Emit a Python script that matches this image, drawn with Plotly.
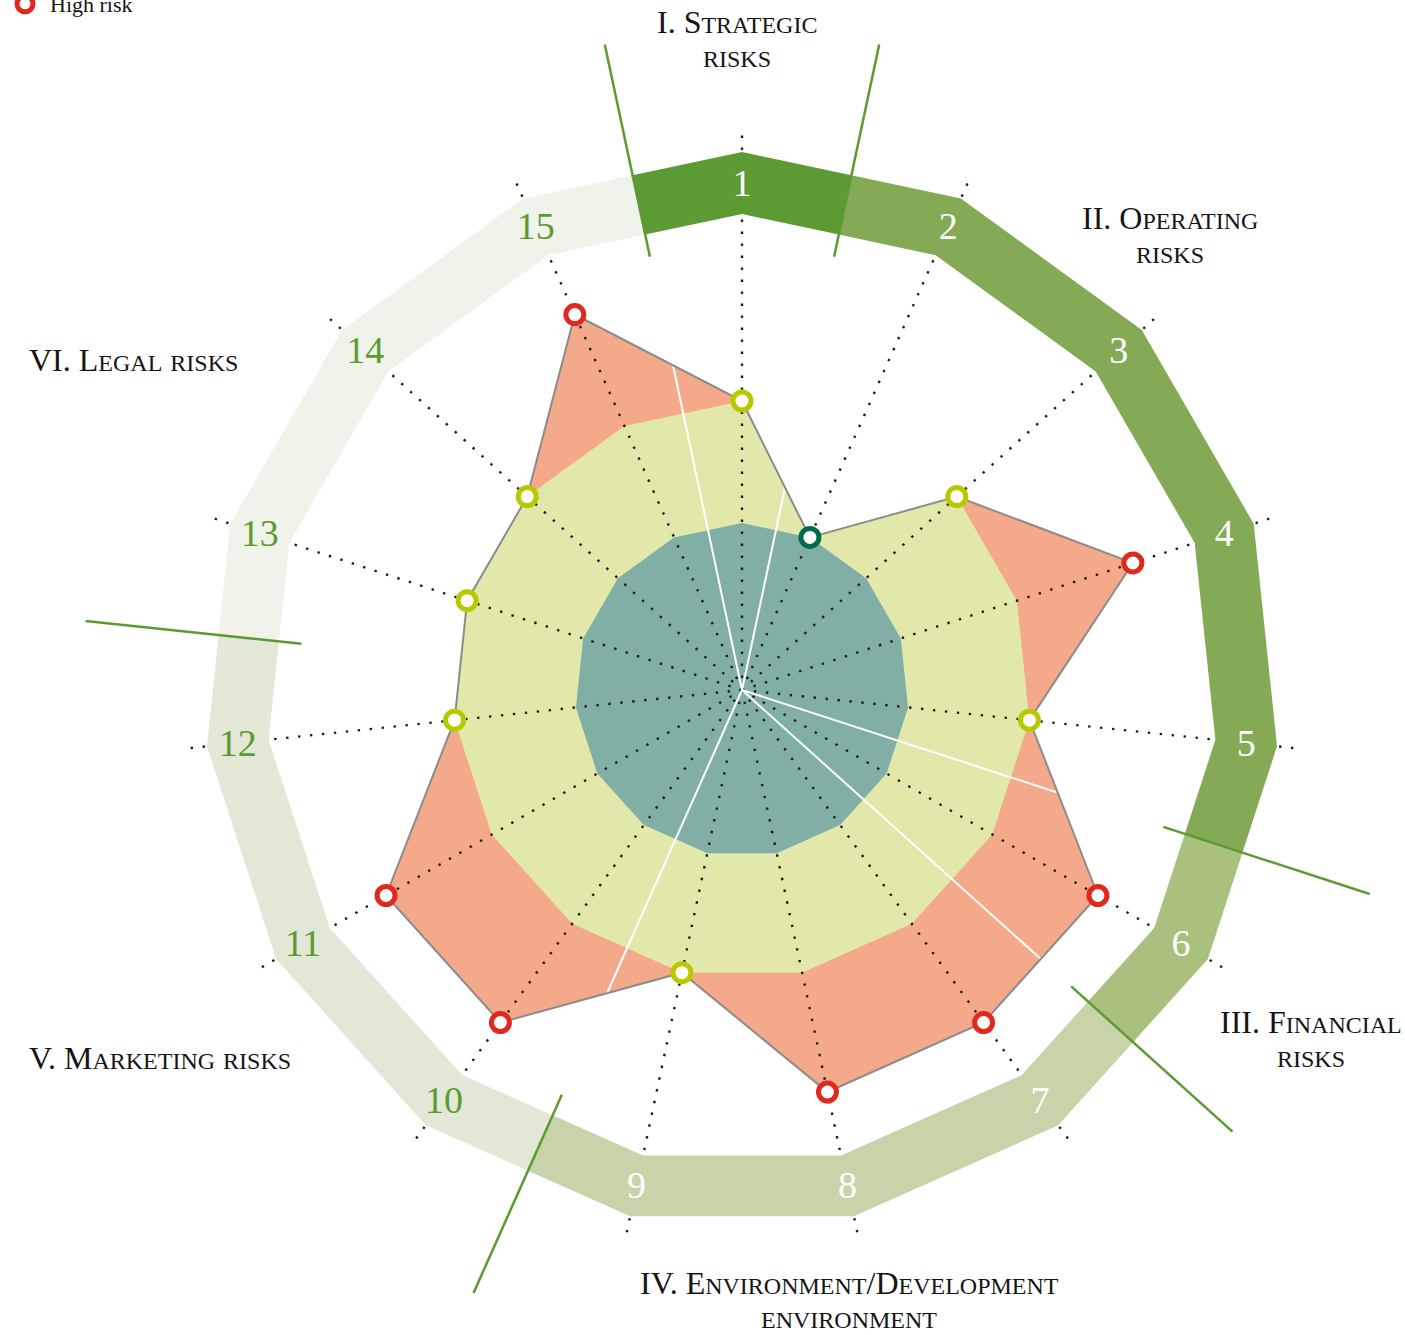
import numpy as np
import plotly.graph_objects as go

# ---- data -------------------------------------------------------------
risk_ids = list(range(1, 16))
risk_labels = [str(i) for i in risk_ids]
# assessed risk level per risk: 1 = low, 2 = medium, 3 = high
risk_scores = [2, 1, 2, 3, 2, 3, 3, 3, 2, 3, 3, 2, 2, 2, 3]
level_names = {1: "Low risk", 2: "Medium risk", 3: "High risk"}

# risk groups (first and last risk number of each group)
group_names = ["I. Strategic risks", "II. Operating risks", "III. Financial risks",
               "IV. Environment/Development environment", "V. Marketing risks",
               "VI. Legal risks"]
group_spans = [(1, 1), (2, 5), (6, 6), (7, 9), (10, 12), (13, 15)]
# group headings as printed, one entry per line
group_heading_lines = [["I. Strategic", "risks"], ["II. Operating", "risks"],
                       ["III. Financial", "risks"],
                       ["IV. Environment/Development", "environment"],
                       ["V. Marketing risks"], ["VI. Legal risks"]]

# ---- styling ----------------------------------------------------------
SERIF = "Liberation Serif"
LEVEL_COLORS = {1: "#006b4d", 2: "#b9c900", 3: "#e2271c"}
ZONE_COLORS = {1: "#81afa5", 2: "#e2e8aa"}
DATA_FILL = "#f4a98a"
OUTLINE = "#8c8c8c"
GROUP_BAND = ["#5c9a34", "#84aa56", "#a9c07e", "#c7d4aa", "#e3e8d6", "#eff3e9"]
NUMBER_COLORS = ["white"] * 9 + ["#5c9a34"] * 6
SEP_COLOR = "#5c9a34"
TEXT_COLOR = "#151515"

N = len(risk_ids)
STEP = 360.0 / N
theta = 90.0 - STEP * np.arange(N)            # axis angles (deg), clockwise from top


def radial(score):
    """radial scale: risk level -> distance from centre"""
    return 45.0 + 122.0 * np.asarray(score, dtype=float)


def xy(r, ang_deg):
    a = np.radians(ang_deg)
    return np.asarray(r) * np.cos(a), np.asarray(r) * np.sin(a)


R_AXIS = 563        # length of the dotted spokes
R_BAND_OUT, R_BAND_IN, R_NUM = 538, 476, 507
R_SEP = (443, 660)

fig = go.Figure()

scores = np.array(risk_scores)

# assessed profile (salmon), then medium and low zones clipped to it
for level_r, color in [(None, DATA_FILL), (2, ZONE_COLORS[2]), (1, ZONE_COLORS[1])]:
    s = scores if level_r is None else np.minimum(scores, level_r)
    x, y = xy(radial(s), theta)
    fig.add_trace(go.Scatter(x=np.append(x, x[0]), y=np.append(y, y[0]), mode="lines",
                             fill="toself", fillcolor=color, line=dict(width=0),
                             hoverinfo="skip", showlegend=False))

# dotted spokes
for t in theta:
    x, y = xy([0, R_AXIS], [t, t])
    fig.add_trace(go.Scatter(x=x, y=y, mode="lines",
                             line=dict(color="#1e1e1e", width=2.4, dash="2.4px,9.6px"),
                             hoverinfo="skip", showlegend=False))

# group boundaries (angle half-way after the last risk of each group)
bound_angles = [90.0 - STEP * (last - 1) - STEP / 2 for _, last in group_spans]


def cross(v, w):
    return v[0] * w[1] - v[1] * w[0]


# white dividers from the centre to the profile outline
# (every group boundary except the one between groups V and VI)
px, py = xy(radial(scores), theta)
for gi, (first, last) in enumerate(group_spans):
    if gi == 4:
        continue
    k = last - 1
    a = np.radians(bound_angles[gi])
    u = np.array([np.cos(a), np.sin(a)])
    p0 = np.array([px[k], py[k]])
    p1 = np.array([px[(k + 1) % N], py[(k + 1) % N]])
    d = p1 - p0
    hit = p0 + (-cross(u, p0) / cross(u, d)) * d
    fig.add_trace(go.Scatter(x=[0, hit[0]], y=[0, hit[1]], mode="lines",
                             line=dict(color="white", width=2),
                             hoverinfo="skip", showlegend=False))

# profile outline
fig.add_trace(go.Scatter(x=np.append(px, px[0]), y=np.append(py, py[0]), mode="lines",
                         line=dict(color=OUTLINE, width=2),
                         hoverinfo="skip", showlegend=False))

# outer band, one segment per group
half = np.cos(np.radians(STEP / 2))
for gi, (first, last) in enumerate(group_spans):
    a_start = theta[first - 1] + STEP / 2
    a_end = theta[last - 1] - STEP / 2
    angs = [a_start] + [theta[j - 1] for j in range(first, last + 1)] + [a_end]
    r_out = [R_BAND_OUT * half] + [R_BAND_OUT] * (last - first + 1) + [R_BAND_OUT * half]
    r_in = [R_BAND_IN * half] + [R_BAND_IN] * (last - first + 1) + [R_BAND_IN * half]
    xo, yo = xy(r_out, angs)
    xi, yi = xy(r_in[::-1], angs[::-1])
    xs = np.concatenate([xo, xi, xo[:1]])
    ys = np.concatenate([yo, yi, yo[:1]])
    fig.add_trace(go.Scatter(x=xs, y=ys, mode="lines", fill="toself",
                             fillcolor=GROUP_BAND[gi], line=dict(width=0),
                             hoverinfo="skip", showlegend=False))

# group separators across the band
for a in bound_angles:
    x, y = xy(list(R_SEP), [a, a])
    fig.add_trace(go.Scatter(x=x, y=y, mode="lines",
                             line=dict(color=SEP_COLOR, width=2.5),
                             hoverinfo="skip", showlegend=False))

# risk numbers on the band (nudged a little downwards to sit optically centred)
nx, ny = xy(np.full(N, R_NUM), theta)
fig.add_trace(go.Scatter(x=nx, y=ny - 3, mode="text", text=risk_labels,
                         textfont=dict(family=SERIF, size=38, color=NUMBER_COLORS),
                         textposition="middle center",
                         hoverinfo="skip", showlegend=False))

# risk markers by level
for lvl in (1, 2, 3):
    idx = np.where(scores == lvl)[0]
    fig.add_trace(go.Scatter(x=px[idx], y=py[idx], mode="markers",
                             name=level_names[lvl],
                             marker=dict(symbol="circle", size=18, color="white",
                                         line=dict(color=LEVEL_COLORS[lvl], width=5)),
                             showlegend=(lvl == 3),
                             hovertext=[f"Risk {risk_labels[i]}" for i in idx],
                             hoverinfo="text+name"))


def small_caps(text, small):
    out, buf = [], ""
    for ch in text:
        if ch.islower():
            buf += ch.upper()
        else:
            if buf:
                out.append(f"<span style='font-size:{small}px'>{buf}</span>")
                buf = ""
            out.append(ch)
    if buf:
        out.append(f"<span style='font-size:{small}px'>{buf}</span>")
    return "".join(out)


BIG, SMALL = 32, 24
LINE_GAP = 37
# heading placement: (x, y of first line, anchor)
heading_pos = [(-5, 668, "center"), (428, 472, "center"), (569, -332, "center"),
               (107, -593, "center"), (-715, -368, "left"), (-715, 330, "left")]
annotations = []
for lines, (x, y0, anchor) in zip(group_heading_lines, heading_pos):
    for li, line in enumerate(lines):
        annotations.append(dict(x=x, y=y0 - li * LINE_GAP, xref="x", yref="y",
                                text=small_caps(line, SMALL), showarrow=False,
                                xanchor=anchor, yanchor="middle",
                                font=dict(family=SERIF, size=BIG, color=TEXT_COLOR)))

W, H = 1405, 1335
CX, CY = 742, 690
fig.update_layout(
    width=W, height=H,
    margin=dict(l=0, r=0, t=0, b=0, pad=0, autoexpand=False),
    paper_bgcolor="white", plot_bgcolor="white",
    xaxis=dict(range=[-CX, W - CX], visible=False, fixedrange=True),
    yaxis=dict(range=[-(H - CY), CY], visible=False, fixedrange=True),
    annotations=annotations,
    showlegend=True,
    legend=dict(x=0.0, y=1 - 4 / H, xanchor="left", yanchor="middle",
                itemwidth=40,
                font=dict(family=SERIF, size=22, color=TEXT_COLOR),
                bgcolor="rgba(0,0,0,0)", borderwidth=0),
)

fig.write_html("out.html")
